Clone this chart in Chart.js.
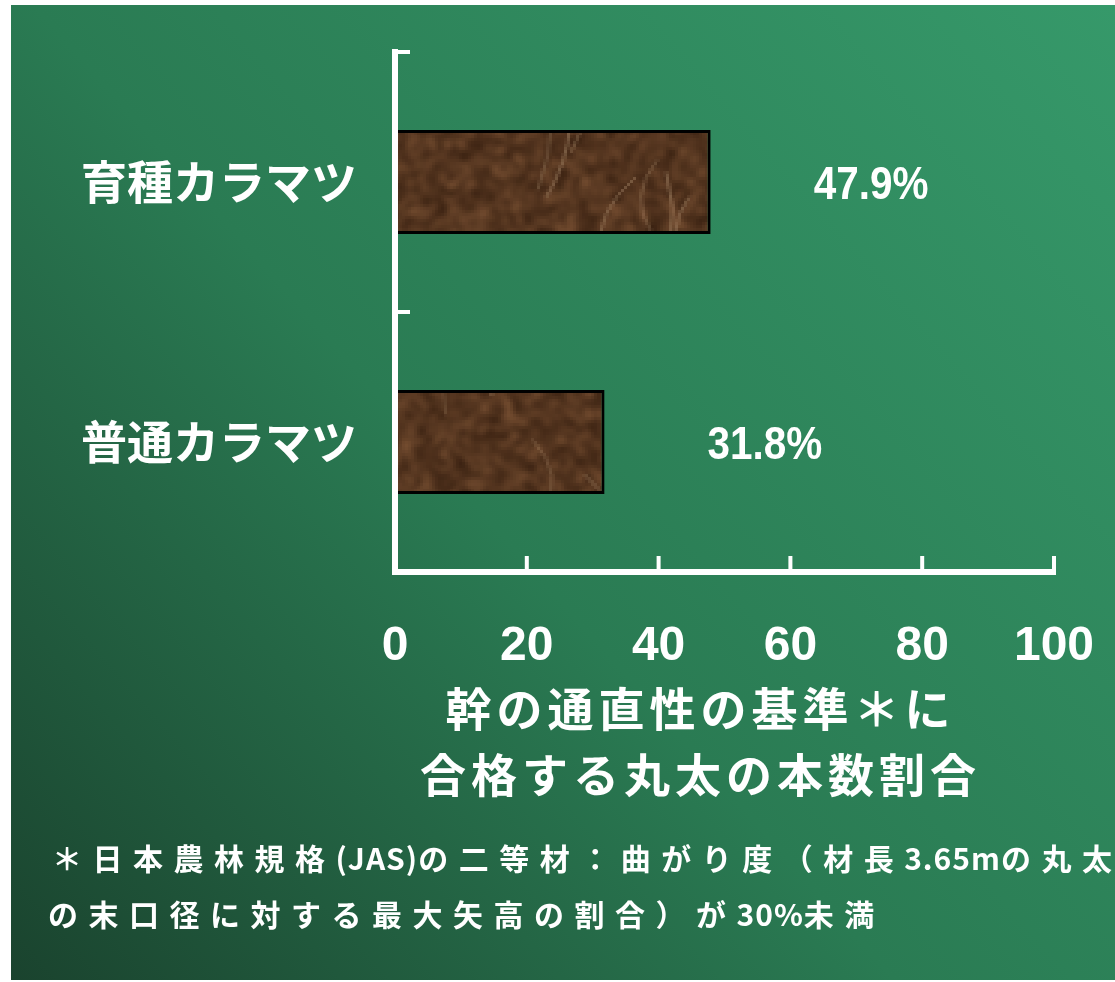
<!DOCTYPE html>
<html lang="ja">
<head>
<meta charset="utf-8">
<script src="https://cdn.jsdelivr.net/npm/chart.js@4.4.1/dist/chart.umd.min.js"></script>
<style>
  html, body { margin: 0; padding: 0; background: #fff; }
</style>
</head>
<body>
<canvas id="myChart" width="1115" height="982"></canvas>
<script>
// chart data
const categories = ['育種カラマツ', '普通カラマツ'];
const shareValues = [47.9, 31.8];
const valueLabels = ['47.9%', '31.8%'];
const xTicks = [0, 20, 40, 60, 80, 100];
const axisTitle = ['幹の通直性の基準＊に', '合格する丸太の本数割合'];
const footnote = [
  '＊日本農林規格(JAS)の二等材：曲がり度（材長3.65mの丸太',
  'の末口径に対する最大矢高の割合）が30%未満',
];

const WHITE = '#ffffff';
const LATIN = '"Liberation Sans", Arial, sans-serif';
const JP = '"Noto Sans CJK JP", sans-serif';

const canvas = document.getElementById('myChart');
const ctx = canvas.getContext('2d');

// brown wood-like texture for the bars (decoration only)
function woodPattern() {
  const w = 240;
  const h = 200;
  let seed = 23;
  const rnd = () => {
    seed = (seed * 16807) % 2147483647;
    return seed / 2147483647;
  };
  // mottled noise, one cell per pixel
  const noise = document.createElement('canvas');
  noise.width = w;
  noise.height = h;
  const n = noise.getContext('2d');
  const img = n.createImageData(w, h);
  for (let i = 0; i < w * h; i++) {
    const t = rnd();
    const k = t * t;
    img.data[i * 4] = 48 + k * 110;
    img.data[i * 4 + 1] = 26 + k * 82;
    img.data[i * 4 + 2] = 12 + k * 58;
    img.data[i * 4 + 3] = 255;
  }
  n.putImageData(img, 0, 0);

  const small = document.createElement('canvas');
  small.width = w;
  small.height = h;
  const g = small.getContext('2d');
  g.filter = 'blur(0.8px)';
  g.drawImage(noise, 0, 0);
  g.filter = 'none';
  // pale fibres
  g.strokeStyle = '#a8896a';
  g.lineWidth = 0.9;
  for (let i = 0; i < 60; i++) {
    const x0 = rnd() * w;
    const y0 = rnd() * h;
    g.globalAlpha = 0.25 + rnd() * 0.35;
    g.beginPath();
    g.moveTo(x0, y0 + 20);
    g.quadraticCurveTo(x0 + (rnd() - 0.5) * 20, y0 + 8, x0 + (rnd() - 0.5) * 24, y0 - 4);
    g.stroke();
  }
  const big = document.createElement('canvas');
  big.width = w * 3;
  big.height = h * 3;
  const b = big.getContext('2d');
  b.imageSmoothingEnabled = false;
  b.drawImage(small, 0, 0, w * 3, h * 3);
  return ctx.createPattern(big, 'repeat');
}

// spaced text: wide glyphs get extra gap, latin stays tight
function drawSpaced(c, text, x, y, gap) {
  let px = x;
  for (const ch of text) {
    c.fillText(ch, px, y);
    const wide = ch.charCodeAt(0) > 0x2000;
    px += c.measureText(ch).width + (wide ? gap : 1);
  }
}

const backgroundPlugin = {
  id: 'greenBoard',
  beforeDraw(chart) {
    const c = chart.ctx;
    c.save();
    c.fillStyle = '#ffffff';
    c.fillRect(0, 0, chart.width, chart.height);
    const grad = c.createLinearGradient(11, 980, 1115, 5);
    grad.addColorStop(0, '#1a432e');
    grad.addColorStop(0.45, '#2a7b53');
    grad.addColorStop(1, '#36996a');
    c.fillStyle = grad;
    c.fillRect(11, 5, 1104, 975);
    c.restore();
  },
};

const axesPlugin = {
  id: 'whiteAxes',
  afterDatasetsDraw(chart) {
    const c = chart.ctx;
    const xs = chart.scales.x;
    const ys = chart.scales.y;
    const x0 = xs.getPixelForValue(0);
    const x1 = xs.getPixelForValue(100);
    c.save();
    c.strokeStyle = WHITE;
    c.lineCap = 'butt';
    c.lineWidth = 6;
    c.beginPath();
    c.moveTo(x0, ys.top - 3);
    c.lineTo(x0, ys.bottom + 3);
    c.moveTo(x0 - 3, ys.bottom);
    c.lineTo(x1 + 2, ys.bottom);
    c.stroke();
    // x ticks point up
    c.lineWidth = 4;
    c.beginPath();
    xTicks.slice(1).forEach((v) => {
      const px = xs.getPixelForValue(v);
      c.moveTo(px, ys.bottom);
      c.lineTo(px, ys.bottom - 16);
    });
    // y ticks at category boundaries point right
    for (let i = 0; i < categories.length; i++) {
      const py = ys.getPixelForValue(i - 0.5);
      c.moveTo(x0, py);
      c.lineTo(x0 + 15, py);
    }
    c.stroke();

    // value labels, a little condensed
    c.fillStyle = WHITE;
    c.font = 'bold 46px ' + LATIN;
    c.textAlign = 'left';
    c.textBaseline = 'middle';
    chart.getDatasetMeta(0).data.forEach((bar, i) => {
      c.save();
      c.translate(bar.x + 103, bar.y + 4);
      c.scale(0.88, 1);
      c.fillText(valueLabels[i], 0, 0);
      c.restore();
    });

    // axis title, two lines
    const cx = (chart.chartArea.left + chart.chartArea.right) / 2 - 26;
    c.font = 'bold 46px ' + JP;
    c.textAlign = 'center';
    c.letterSpacing = '5px';
    c.fillText(axisTitle[0], cx + 2, ys.bottom + 137);
    c.fillText(axisTitle[1], cx + 2, ys.bottom + 203);
    c.letterSpacing = '0px';

    // footnote
    c.font = 'bold 30px ' + JP;
    c.textAlign = 'left';
    drawSpaced(c, footnote[0], 52, 859, 10.5);
    drawSpaced(c, footnote[1], 48, 915, 10.5);
    c.restore();
  },
};

const chartData = {
  labels: categories,
  datasets: [
    {
      data: shareValues,
      backgroundColor: woodPattern(),
      borderColor: '#000000',
      borderWidth: 3,
      barPercentage: 0.4,
      categoryPercentage: 1,
    },
  ],
};

const myChart = new Chart(canvas, {
  type: 'bar',
  data: chartData,
  plugins: [backgroundPlugin, axesPlugin],
  options: {
    indexAxis: 'y',
    responsive: false,
    animation: false,
    devicePixelRatio: 1,
    layout: { padding: { top: 52, right: 61, left: 0, bottom: 0 } },
    plugins: {
      legend: { display: false },
      tooltip: { enabled: false },
    },
    scales: {
      x: {
        min: 0,
        max: 100,
        afterBuildTicks: (s) => {
          s.ticks = xTicks.map((v) => ({ value: v }));
        },
        afterFit: (s) => {
          s.height = 410;
          s.paddingLeft = 0;
          s.paddingRight = 0;
        },
        grid: { display: false, drawTicks: false },
        border: { display: false },
        ticks: {
          color: WHITE,
          padding: 46,
          maxRotation: 0,
          font: { family: LATIN, size: 48, weight: 'bold' },
        },
      },
      y: {
        afterFit: (s) => {
          s.width = 395;
          s.paddingTop = 0;
          s.paddingBottom = 0;
        },
        grid: { display: false, drawTicks: false },
        border: { display: false },
        ticks: {
          color: WHITE,
          padding: 38,
          font: { family: JP, size: 46, weight: 'bold' },
        },
      },
    },
  },
});
</script>
</body>
</html>
